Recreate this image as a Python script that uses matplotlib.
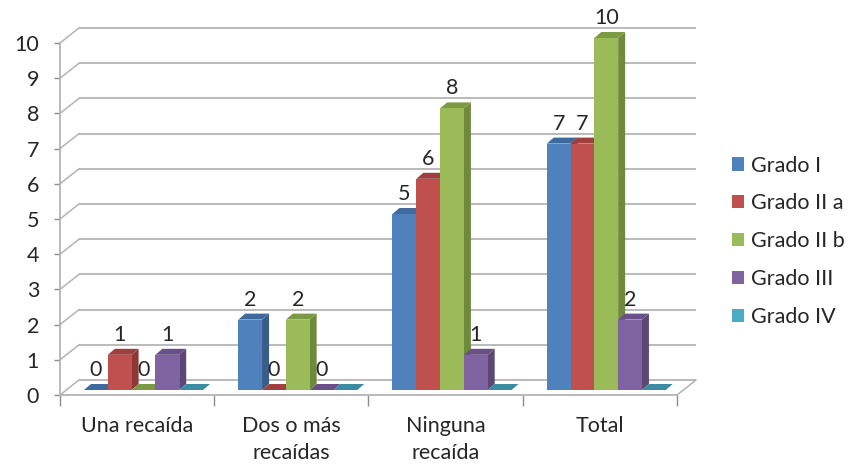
import matplotlib
matplotlib.use("Agg")
import matplotlib.pyplot as plt
import numpy as np
from matplotlib.transforms import ScaledTranslation

categories = ["Una recaída", "Dos o más\nrecaídas", "Ninguna\nrecaída", "Total"]
series_names = ["Grado I", "Grado II a", "Grado II b", "Grado III", "Grado IV"]
grado_1 = [0, 2, 5, 7]
grado_2a = [1, 0, 6, 7]
grado_2b = [0, 2, 8, 10]
grado_3 = [1, 0, 1, 2]
grado_4 = [0, 0, 0, 0]
y_ticks = list(range(11))

front_colors = ["#4F81BD", "#C0504D", "#9BBB59", "#8064A2", "#4BACC6"]
side_colors = ["#385D8A", "#8C3836", "#6F8A3C", "#5C4776", "#357D91"]
top_colors = ["#3F6A9E", "#9E403D", "#7C9A44", "#6A5088", "#3A8CA3"]
GRID = "#B4B4B4"
TEXT = "#262626"
FS = 15.5

plt.rcParams["font.family"] = ["Lato", "DejaVu Sans"]
W, H = 850, 465
fig = plt.figure(figsize=(W / 100, H / 100), dpi=100)
x0, x1, y0, y1 = 60, 677, 395, 43
ax = fig.add_axes([x0 / W, 1 - y0 / H, (x1 - x0) / W, (y0 - y1) / H])
ax.set_xlim(0, len(categories))
ax.set_ylim(0, 10)
ax.patch.set_visible(False)

px = len(categories) / (x1 - x0)   # data units per pixel, x
py = 10 / (y0 - y1)                # data units per pixel, y

# back wall and side wall
wall_dx, wall_dy = 19 * px, 15 * py
for t in y_ticks:
    ax.plot([wall_dx, len(categories) + wall_dx], [t + wall_dy] * 2, color=GRID, lw=1.3,
            clip_on=False, zorder=1, solid_capstyle="butt")
    ax.plot([0, wall_dx], [t, t + wall_dy], color=GRID, lw=1.1, clip_on=False, zorder=1)
ax.plot([len(categories), len(categories) + wall_dx], [0, wall_dy], color=GRID, lw=1.1,
        clip_on=False, zorder=1)

# axes
for s in ["top", "right"]:
    ax.spines[s].set_visible(False)
for s in ["left", "bottom"]:
    ax.spines[s].set_color(GRID)
    ax.spines[s].set_linewidth(1.3)
ax.set_yticks(y_ticks)
ax.set_yticklabels([str(t) for t in y_ticks], fontsize=FS, color=TEXT)
ax.tick_params(axis="y", length=4, width=1, color="#8C8C8C", pad=11)
ax.set_xticks(np.arange(len(categories) + 1), minor=True)
ax.set_xticks(np.arange(len(categories)) + 0.5)
ax.set_xticklabels(categories, fontsize=FS, color=TEXT, linespacing=1.45)
ax.tick_params(axis="x", which="major", length=0, pad=15)
ax.tick_params(axis="x", which="minor", length=8, width=1, color="#8C8C8C")

# bars with fake depth
bar_w = 23.8 * px
margin = 17.6 * px
depth_x, depth_y = 7 * px, 6 * py
shift = ScaledTranslation(6.4 / 100, 5 / 100, fig.dpi_scale_trans)
tr = ax.transData + shift

all_series = [grado_1, grado_2a, grado_2b, grado_3, grado_4]
z = 5
for g in range(len(categories)):
    for k, values in enumerate(all_series):
        v = values[g]
        left = g + margin + k * bar_w
        right = left + bar_w
        ax.bar(left, v, bar_w, align="edge", color=front_colors[k], linewidth=0,
               transform=tr, zorder=z + 2, clip_on=False,
               label=series_names[k] if g == 0 else None)
        ax.fill([right, right + depth_x, right + depth_x, right],
                [0, depth_y, v + depth_y, v], color=side_colors[k], lw=0,
                transform=tr, zorder=z, clip_on=False)
        ax.fill([left, left + depth_x, right + depth_x, right],
                [v, v + depth_y, v + depth_y, v], color=top_colors[k], lw=0,
                transform=tr, zorder=z + 1, clip_on=False)
        z += 3
        if k < 4:
            ax.annotate(str(v), (left + bar_w / 2, v), xycoords=tr,
                        xytext=(0, 20), textcoords="offset pixels",
                        ha="center", va="center", fontsize=FS, color=TEXT,
                        zorder=200, annotation_clip=False)

handles, labels = ax.get_legend_handles_labels()
leg = fig.legend(handles, labels, loc="upper left",
                 bbox_to_anchor=(723.4 / W, 1 - 147 / H), frameon=False,
                 fontsize=FS, handlelength=0.56, handleheight=0.56,
                 handletextpad=0.33, labelspacing=0.83, borderpad=0.4, borderaxespad=0)
for t in leg.get_texts():
    t.set_color(TEXT)

fig.savefig("out.png", dpi=100)
